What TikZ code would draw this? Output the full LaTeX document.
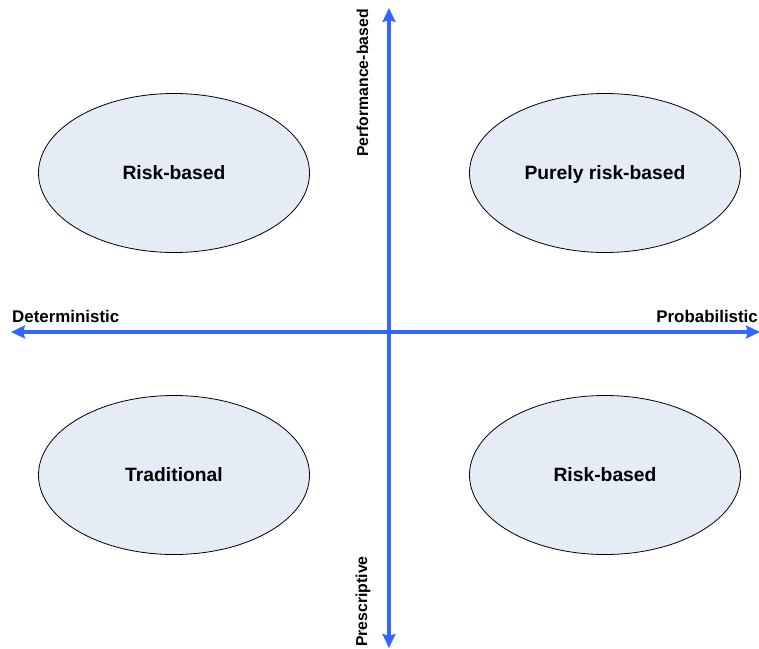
\documentclass[tikz,border=0pt]{standalone}
\usepackage{fontspec}
\setmainfont{Liberation Sans}
\usepackage{tikz}
\usetikzlibrary{arrows.meta,shapes.geometric}

\definecolor{axisblue}{RGB}{51,102,255}
\definecolor{ovalfill}{RGB}{230,236,246}

\tikzset{
  oval/.style={ellipse, draw=black, line width=0.8pt, fill=ovalfill,
    minimum width=271pt, minimum height=159pt, inner sep=0pt,
    text height=13pt, text depth=0pt,
    font=\fontsize{19.3}{23}\selectfont\bfseries},
  axislabel/.style={inner sep=0pt, font=\fontsize{16.9}{20}\selectfont\bfseries},
  sidelabel/.style={axislabel, rotate=90, font=\fontsize{15.8}{19}\selectfont\bfseries},
  axis/.style={draw=axisblue, line width=3.3pt,
    {Stealth[length=14pt,width=13pt,inset=2pt]}-{Stealth[length=14pt,width=13pt,inset=2pt]}}
}

\begin{document}
\begin{tikzpicture}[x=1pt,y=-1pt]
\useasboundingbox (0,0) rectangle (759,648);

\coordinate (west) at (11,332);
\coordinate (east) at (760,332);
\coordinate (north) at (389,8);
\coordinate (south) at (389,648);

\node[oval] (riskup) at (174,173) {Risk-based};

\node[oval] (purely) at (605,173) {Purely risk-based};

\node[oval] (traditional) at (174,475) {Traditional};

\node[oval] (riskdown) at (605,475) {Risk-based};

\node[axislabel, anchor=base west] (determ) at (12,322) {Deterministic};

\node[axislabel, anchor=base east] (probab) at (758,322) {Probabilistic};

\node[sidelabel, anchor=base west] (perf) at (368,157) {Performance-based};

\node[sidelabel, anchor=base west] (presc) at (367,647) {Prescriptive};

\draw[axis] (west) -- (east);

\draw[axis] (south) -- (north);
\end{tikzpicture}
\end{document}
